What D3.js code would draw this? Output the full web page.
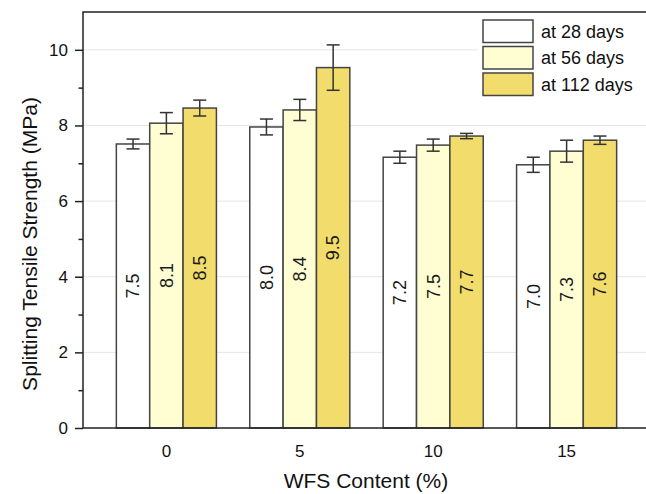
<!DOCTYPE html>
<html>
<head>
<meta charset="utf-8">
<script src="https://cdn.jsdelivr.net/npm/d3@7"></script>
<style>
  html, body { margin: 0; padding: 0; background: #ffffff; }
  svg { display: block; font-family: "Liberation Sans", Arial, sans-serif; }
</style>
</head>
<body>
<svg id="chart" width="646" height="494"></svg>
<script>
// Splitting tensile strength by WFS content and curing age
const categories = ["0", "5", "10", "15"];
const seriesNames = ["at 28 days", "at 56 days", "at 112 days"];
const strength28 = [7.51, 7.96, 7.16, 6.96];
const strength56 = [8.06, 8.41, 7.48, 7.32];
const strength112 = [8.46, 9.53, 7.72, 7.61];
const error28 = [0.13, 0.21, 0.16, 0.20];
const error56 = [0.28, 0.28, 0.16, 0.29];
const error112 = [0.21, 0.60, 0.07, 0.11];
const yMajorTicks = [0, 2, 4, 6, 8, 10];
const yMinorTicks = [1, 3, 5, 7, 9];
const fills = ["#ffffff", "#fefed2", "#f2dc6c"];

const seriesValues = [strength28, strength56, strength112];
const seriesErrors = [error28, error56, error112];

const svg = d3.select("#chart");
const plotLeft = 83, plotRight = 650, plotTop = 12, plotBottom = 428;

const x = d3.scaleBand().domain(categories).range([plotLeft, plotRight])
  .paddingInner(0.25).paddingOuter(0.25);
const xs = d3.scaleBand().domain(d3.range(seriesNames.length))
  .range([0, x.bandwidth()]).padding(0);
const y = d3.scaleLinear().domain([0, 11]).range([plotBottom, plotTop]);

// gridlines
svg.append("g").selectAll("line").data(yMajorTicks.filter(d => d > 0)).join("line")
  .attr("x1", plotLeft).attr("x2", plotRight)
  .attr("y1", d => y(d)).attr("y2", d => y(d))
  .attr("stroke", "#e6e6e6").attr("stroke-width", 1);

// flat records
const records = [];
categories.forEach((c, i) => {
  seriesValues.forEach((vals, s) => {
    records.push({ cat: c, s, value: vals[i], err: seriesErrors[s][i] });
  });
});

const bars = svg.append("g");
bars.selectAll("rect").data(records).join("rect")
  .attr("x", d => x(d.cat) + xs(d.s))
  .attr("y", d => y(d.value))
  .attr("width", xs.bandwidth())
  .attr("height", d => y(0) - y(d.value))
  .attr("fill", d => fills[d.s])
  .attr("stroke", "#444").attr("stroke-width", 1.5);

// error bars
const eb = svg.append("g").attr("stroke", "#333").attr("stroke-width", 1.5);
const cx = d => x(d.cat) + xs(d.s) + xs.bandwidth() / 2;
eb.selectAll("line.v").data(records).join("line").attr("class", "v")
  .attr("x1", cx).attr("x2", cx)
  .attr("y1", d => y(d.value + d.err)).attr("y2", d => y(d.value - d.err));
eb.selectAll("line.t").data(records).join("line").attr("class", "t")
  .attr("x1", d => cx(d) - 6.5).attr("x2", d => cx(d) + 6.5)
  .attr("y1", d => y(d.value + d.err)).attr("y2", d => y(d.value + d.err));
eb.selectAll("line.b").data(records).join("line").attr("class", "b")
  .attr("x1", d => cx(d) - 6.5).attr("x2", d => cx(d) + 6.5)
  .attr("y1", d => y(d.value - d.err)).attr("y2", d => y(d.value - d.err));

// value labels, rotated, at bar mid-height
svg.append("g").selectAll("text").data(records).join("text")
  .attr("transform", d => `translate(${cx(d)},${(y(d.value) + y(0)) / 2}) rotate(-90)`)
  .attr("text-anchor", "middle").attr("dy", "0.35em")
  .attr("font-size", 18).attr("fill", "#1a1a1a")
  .text(d => d.value.toFixed(1));

// frame
svg.append("rect").attr("x", plotLeft).attr("y", plotTop)
  .attr("width", plotRight - plotLeft).attr("height", plotBottom - plotTop)
  .attr("fill", "none").attr("stroke", "#222").attr("stroke-width", 1.5);

// y axis
const yAxis = svg.append("g").attr("transform", `translate(${plotLeft},0)`)
  .call(d3.axisLeft(y).tickValues(yMajorTicks).tickSize(8).tickPadding(7).tickFormat(d3.format("d")));
yAxis.select(".domain").remove();
yAxis.selectAll("line").attr("stroke", "#222").attr("stroke-width", 1.5);
yAxis.selectAll("text").attr("font-size", 17).attr("fill", "#111")
  .attr("font-family", "Liberation Sans, Arial, sans-serif");

const yMinor = svg.append("g").attr("transform", `translate(${plotLeft},0)`)
  .call(d3.axisLeft(y).tickValues(yMinorTicks).tickSize(4.5).tickFormat(""));
yMinor.select(".domain").remove();
yMinor.selectAll("line").attr("stroke", "#222").attr("stroke-width", 1.5);

// x axis
const xAxis = svg.append("g").attr("transform", `translate(0,${plotBottom})`)
  .call(d3.axisBottom(x).tickSize(0).tickPadding(17));
xAxis.select(".domain").remove();
xAxis.selectAll("text").attr("font-size", 17).attr("fill", "#111")
  .attr("font-family", "Liberation Sans, Arial, sans-serif");

// axis titles
svg.append("text").attr("x", 366).attr("y", 488)
  .attr("text-anchor", "middle").attr("font-size", 21).attr("fill", "#111")
  .text("WFS Content (%)");
svg.append("text").attr("transform", "translate(37,244) rotate(-90)")
  .attr("text-anchor", "middle").attr("font-size", 21).attr("fill", "#111")
  .text("Splitting Tensile Strength (MPa)");

// legend
const lg = svg.append("g");
lg.append("rect").attr("x", 478).attr("y", 14).attr("width", 170).attr("height", 88)
  .attr("fill", "#ffffff");
seriesNames.forEach((name, i) => {
  const yy = 20 + i * 26.5;
  lg.append("rect").attr("x", 483).attr("y", yy).attr("width", 50).attr("height", 22.5)
    .attr("fill", fills[i]).attr("stroke", "#444").attr("stroke-width", 1.5);
  lg.append("text").attr("x", 541).attr("y", yy + 11.5).attr("dy", "0.35em")
    .attr("font-size", 18).attr("fill", "#111").text(name);
});
</script>
</body>
</html>
